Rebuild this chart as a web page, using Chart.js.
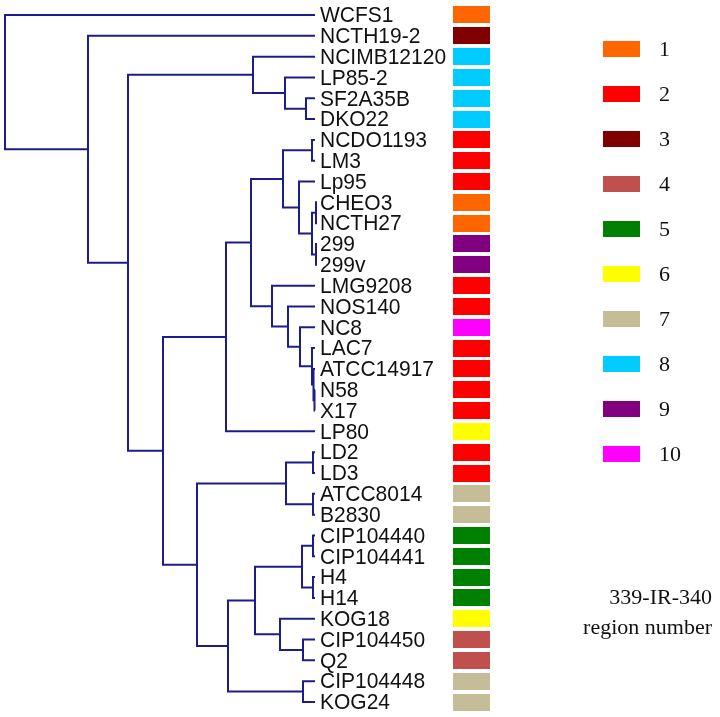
<!DOCTYPE html>
<html>
<head>
<meta charset="utf-8">
<script src="https://cdn.jsdelivr.net/npm/chart.js@4.4.1/dist/chart.umd.min.js"></script>
<style>
  html, body { margin: 0; padding: 0; background: #fff; }
</style>
</head>
<body>
<canvas id="tree" width="720" height="717"></canvas>
<script>
// leaves, top to bottom
const LEAVES = ['WCFS1','NCTH19-2','NCIMB12120','LP85-2','SF2A35B','DKO22','NCDO1193','LM3',
  'Lp95','CHEO3','NCTH27','299','299v','LMG9208','NOS140','NC8','LAC7','ATCC14917','N58','X17',
  'LP80','LD2','LD3','ATCC8014','B2830','CIP104440','CIP104441','H4','H14','KOG18','CIP104450',
  'Q2','CIP104448','KOG24'];
// 339-IR-340 region number of each leaf
const REGION = [1,3,8,8,8,8,2,2,2,1,1,9,9,2,2,10,2,2,2,2,6,2,2,7,7,5,5,5,5,6,4,4,7,7];

// merges: [child a, child b, depth of the join]; leaves are 0..33, merge k makes node 34+k
const MERGES = [
  [4,5,301],[3,34,280],[2,35,248],            // 34 35 36
  [6,7,307],[9,10,311],[11,12,311],           // 37 38 39
  [38,39,307],[8,40,294],[37,41,278],         // 40 41 42
  [18,19,309.5],[17,43,308.5],[16,44,307],    // 43 44 45
  [15,45,295],[14,46,283],[13,47,267],        // 46 47 48
  [42,48,246],[49,20,221],                    // 49 50
  [21,22,308],[23,24,308],[51,52,281],        // 51 52 53
  [25,26,308],[27,28,308],[54,55,297],        // 54 55 56
  [30,31,298],[29,57,275],[56,58,250],        // 57 58 59
  [32,33,298],[59,60,223],[53,61,192],        // 60 61 62
  [50,62,158],[36,63,123],[1,64,83],[0,65,0]  // 63 64 65 66
];
const LEAF_DEPTH = 310;

const REGION_NUMS = [1,2,3,4,5,6,7,8,9,10];
const REGION_COLORS = ['#ff6600','#ff0000','#800000','#c0504d','#008000',
  '#ffff00','#c4bd97','#00ccff','#800080','#ff00ff'];

const BOX_X = 466.5;
const LINE_COLOR = '#1c1c8a';

// node positions
const pos = LEAVES.map((_, i) => ({ x: LEAF_DEPTH, y: i }));
MERGES.forEach(([a, b, d]) => pos.push({ x: d, y: (pos[a].y + pos[b].y) / 2 }));

const branchSets = MERGES.map(([a, b, d]) => ({
  type: 'scatter',
  showLine: true,
  data: [
    { x: pos[a].x, y: pos[a].y }, { x: d, y: pos[a].y },
    { x: d, y: pos[b].y }, { x: pos[b].x, y: pos[b].y }
  ],
  borderColor: LINE_COLOR,
  borderWidth: 2,
  pointRadius: 0,
  tension: 0,
  borderJoinStyle: 'miter',
  clip: false
}));

function boxImage(color) {
  const c = document.createElement('canvas');
  c.width = 37; c.height = 17;
  const g = c.getContext('2d');
  g.fillStyle = color;
  g.fillRect(0, 0, 37, 17);
  return c;
}
const boxImgs = REGION_COLORS.map(boxImage);

const boxSet = {
  type: 'scatter',
  data: LEAVES.map((_, i) => ({ x: BOX_X, y: i })),
  pointStyle: REGION.map(r => boxImgs[r - 1]),
  pointRadius: 10,
  clip: false
};

const textPlugin = {
  id: 'texts',
  afterDatasetsDraw(chart) {
    const { ctx, scales: { x, y } } = chart;
    ctx.save();
    ctx.fillStyle = '#111';
    ctx.textBaseline = 'middle';
    ctx.textAlign = 'left';
    ctx.font = '21px "Liberation Sans", Arial, sans-serif';
    LEAVES.forEach((name, i) => {
      ctx.save();
      ctx.translate(x.getPixelForValue(LEAF_DEPTH) + 5, y.getPixelForValue(i) + 1);
      ctx.scale(1, 1.08);
      ctx.fillText(name, 0, 0);
      ctx.restore();
    });

    // region legend
    ctx.font = '22px "Liberation Serif", "Times New Roman", serif';
    REGION_NUMS.forEach((n, i) => {
      const cy = 49 + i * 45;
      ctx.fillStyle = REGION_COLORS[i];
      ctx.fillRect(603, cy - 8, 37, 16);
      ctx.fillStyle = '#111';
      ctx.fillText(String(n), 659, cy + 1);
    });
    ctx.textAlign = 'right';
    ctx.fillText('339-IR-340', 712, 598);
    ctx.fillText('region number', 712, 628);
    ctx.restore();
  }
};

new Chart(document.getElementById('tree'), {
  type: 'scatter',
  data: { datasets: [...branchSets, boxSet] },
  options: {
    responsive: false,
    animation: false,
    events: [],
    layout: { padding: 0, autoPadding: false },
    plugins: { legend: { display: false }, tooltip: { enabled: false } },
    scales: {
      x: { type: 'linear', min: -5, max: 715, display: false },
      y: { type: 'linear', min: -0.72, max: 33.72, reverse: true, display: false }
    }
  },
  plugins: [textPlugin]
});
</script>
</body>
</html>
